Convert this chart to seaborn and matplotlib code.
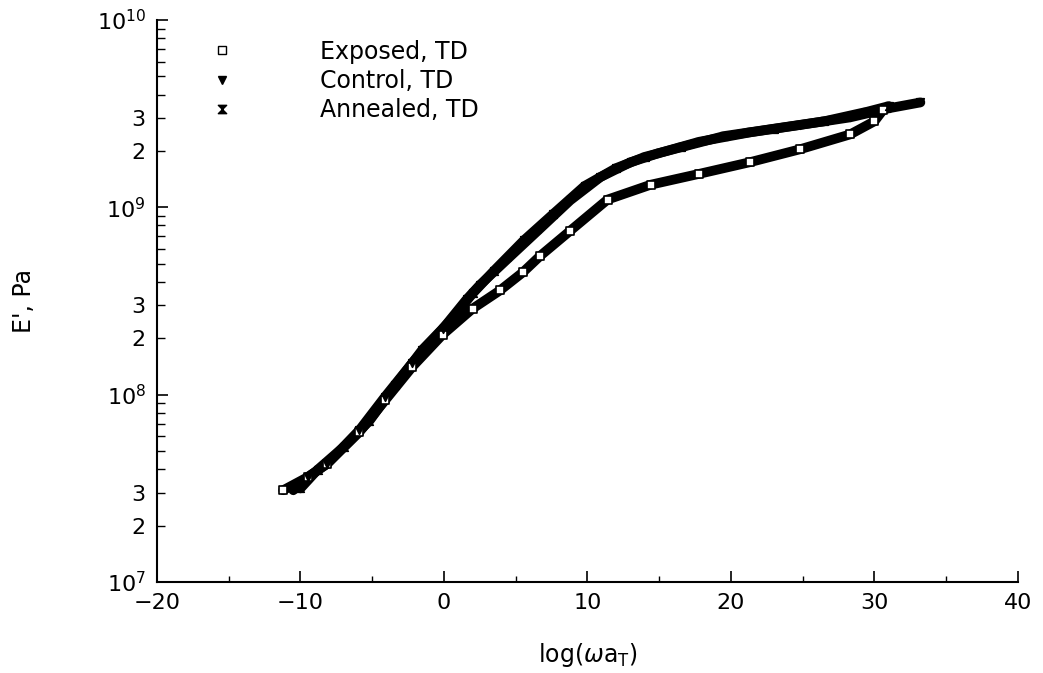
import numpy as np
import pandas as pd
import matplotlib
matplotlib.use("Agg")
import matplotlib.pyplot as plt
from matplotlib.path import Path
from matplotlib.lines import Line2D
from matplotlib.ticker import FixedLocator, FixedFormatter, LogFormatterSciNotation, MultipleLocator
import seaborn as sns

# Storage modulus master curves, E' (Pa) versus reduced frequency log(omega a_T)
exposed_x = [-11.2, -9.5, -8.15, -5.9, -4.1, -2.2, -0.1, 2.0, 3.9, 5.5, 6.7, 8.8,
             11.4, 14.4, 17.8, 21.3, 24.8, 28.3, 30.0, 30.6]
exposed_E = [3.09e7, 3.63e7, 4.27e7, 6.31e7, 9.33e7, 1.41e8, 2.09e8, 2.88e8, 3.60e8,
             4.50e8, 5.50e8, 7.50e8, 1.10e9, 1.32e9, 1.51e9, 1.74e9, 2.04e9, 2.45e9,
             2.88e9, 3.31e9]

control_x = [-10.5, -9.5, -8.15, -5.9, -4.1, -2.2, -0.1, 1.6, 2.5, 4.6, 6.7, 8.8,
             10.9, 13.0, 15.0, 17.8, 21.3, 24.8, 28.3, 31.1, 33.2]
control_E = [3.09e7, 3.63e7, 4.27e7, 6.46e7, 9.77e7, 1.48e8, 2.24e8, 3.24e8, 3.85e8,
             5.45e8, 7.70e8, 1.09e9, 1.45e9, 1.74e9, 1.95e9, 2.24e9, 2.51e9, 2.75e9,
             3.02e9, 3.39e9, 3.63e9]

annealed_x = [-10.0, -8.8, -7.0, -5.2, -3.4, -1.5, 0.5, 2.0, 3.5, 5.6, 7.6, 9.8,
              12.0, 14.0, 16.5, 19.5, 23.0, 26.5, 29.5, 31.0]
annealed_E = [3.16e7, 3.98e7, 5.25e7, 7.24e7, 1.12e8, 1.74e8, 2.51e8, 3.47e8, 4.60e8,
              6.70e8, 9.20e8, 1.30e9, 1.62e9, 1.86e9, 2.09e9, 2.40e9, 2.63e9, 2.88e9,
              3.24e9, 3.47e9]

series_names = ["Exposed, TD", "Control, TD", "Annealed, TD"]

frames = []
for name, xs, es in zip(series_names,
                        [exposed_x, control_x, annealed_x],
                        [exposed_E, control_E, annealed_E]):
    frames.append(pd.DataFrame({"series": name, "logwaT": xs, "E": es}))
df = pd.concat(frames, ignore_index=True)

sns.set_style("ticks")
plt.rcParams["font.family"] = ["DejaVu Sans"]
plt.rcParams["mathtext.fontset"] = "dejavusans"
plt.rcParams["text.color"] = "black"
plt.rcParams["axes.labelcolor"] = "black"

fig = plt.figure(figsize=(10.43, 6.73), dpi=100)
ax = fig.add_axes([0.1505, 0.1352, 0.8255, 0.8351])

hourglass = Path([(-1, 1), (1, 1), (-1, -1), (1, -1), (-1, 1)],
                 [Path.MOVETO, Path.LINETO, Path.LINETO, Path.LINETO, Path.CLOSEPOLY])
marker_for = {"Exposed, TD": "s", "Control, TD": "v", "Annealed, TD": hourglass}
face_for = {"Exposed, TD": "white", "Control, TD": "black", "Annealed, TD": "black"}

# Dense bands of overlapping points
for name in series_names:
    sub = df[df["series"] == name]
    sns.lineplot(data=sub, x="logwaT", y="E", ax=ax, color="black", linewidth=7,
                 sort=False, estimator=None, legend=False, solid_capstyle="round",
                 solid_joinstyle="round")
for name in series_names:
    sub = df[df["series"] == name]
    sns.scatterplot(data=sub, x="logwaT", y="E", ax=ax, marker=marker_for[name],
                    facecolor=face_for[name], edgecolor="black", linewidth=1.2,
                    s=30, legend=False, zorder=3)

ax.set_yscale("log")
ax.set_xlim(-20, 40)
ax.set_ylim(1e7, 1e10)

ax.xaxis.set_major_locator(FixedLocator([-20, -10, 0, 10, 20, 30, 40]))
ax.xaxis.set_minor_locator(MultipleLocator(5))
ax.xaxis.set_major_formatter(FixedFormatter(["\u221220", "\u221210", "0", "10", "20", "30", "40"]))

ax.yaxis.set_major_locator(FixedLocator([1e7, 1e8, 1e9, 1e10]))
ax.yaxis.set_major_formatter(LogFormatterSciNotation())
minor_vals, minor_labels = [], []
for dec in [1e7, 1e8, 1e9]:
    for m in range(2, 10):
        minor_vals.append(m * dec)
        minor_labels.append(str(m) if m in (2, 3) else "")
ax.yaxis.set_minor_locator(FixedLocator(minor_vals))
ax.yaxis.set_minor_formatter(FixedFormatter(minor_labels))

ax.tick_params(axis="both", which="major", direction="in", length=8, width=1.2,
               labelsize=16, color="black", labelcolor="black", pad=8)
ax.tick_params(axis="both", which="minor", direction="in", length=5.5, width=1.0,
               labelsize=16, color="black", labelcolor="black", pad=8)
ax.tick_params(axis="x", which="minor", length=4.5)

sns.despine(ax=ax)
for sp in ["left", "bottom"]:
    ax.spines[sp].set_linewidth(1.5)
    ax.spines[sp].set_color("black")

ax.set_xlabel(r"log($\omega$a$_{\mathrm{T}}$)", fontsize=17, labelpad=20, color="black")
ax.set_ylabel("E', Pa", fontsize=17, labelpad=44, color="black")

handles = [Line2D([], [], linestyle="none", marker=marker_for[n], markersize=6,
                  markerfacecolor=face_for[n], markeredgecolor="black", markeredgewidth=1.0)
           for n in series_names]
leg = ax.legend(handles, series_names, loc="upper left", bbox_to_anchor=(0.062, 0.965),
                frameon=False, fontsize=17, handlelength=1.0, handletextpad=3.65,
                labelspacing=0.22, borderpad=0, borderaxespad=0)
for t in leg.get_texts():
    t.set_color("black")

fig.savefig("out.png", dpi=100)
